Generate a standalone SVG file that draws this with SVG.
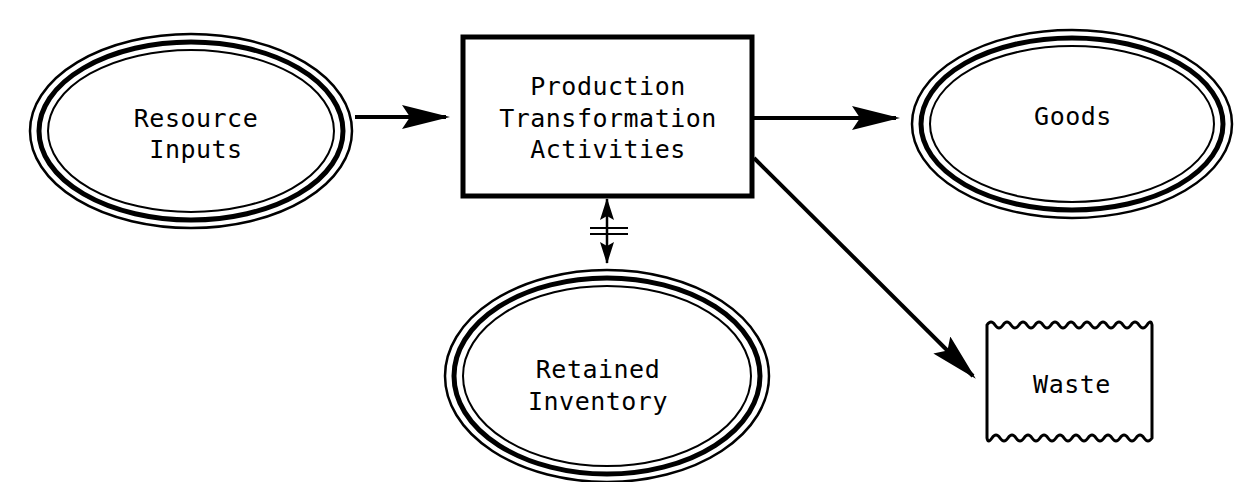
<svg xmlns="http://www.w3.org/2000/svg" width="1236" height="482" viewBox="0 0 1236 482">
<style>
.o{fill:none;stroke:#000;stroke-width:2.5}
.m{fill:none;stroke:#000;stroke-width:5}
.i{fill:none;stroke:#000;stroke-width:2}
.t{font-family:"DejaVu Sans Mono","Liberation Mono",monospace;font-size:25px;letter-spacing:0.5px;fill:#000;text-anchor:middle}
.c{fill:none;stroke:#000;stroke-width:4}
</style>
<defs>
<marker id="ah" markerWidth="12" markerHeight="6" refX="11" refY="3" orient="auto" markerUnits="strokeWidth">
<path d="M0,0 L12,3 L0,6 L2,3 Z" fill="#000"/>
</marker>
<marker id="sa" markerWidth="22" markerHeight="14" refX="21" refY="7" orient="auto-start-reverse" markerUnits="userSpaceOnUse">
<path d="M0,0 L22,7 L0,14 L4,7 Z" fill="#000"/>
</marker>
</defs>
<rect width="1236" height="482" fill="#fff"/>
<g id="resource">
<ellipse class="o" cx="191" cy="131" rx="161" ry="97"/>
<ellipse class="m" cx="191" cy="131" rx="152" ry="89"/>
<ellipse class="i" cx="191" cy="131" rx="143" ry="81"/>
<text class="t" x="196" y="127">Resource</text>
<text class="t" x="196" y="158">Inputs</text>
</g>
<g id="production">
<rect x="463" y="37" width="289" height="159" fill="#fff" stroke="#000" stroke-width="5"/>
<text class="t" x="608" y="95">Production</text>
<text class="t" x="608" y="127">Transformation</text>
<text class="t" x="608" y="158">Activities</text>
</g>
<g id="goods">
<ellipse class="o" cx="1072" cy="124" rx="160" ry="94"/>
<ellipse class="m" cx="1072" cy="124" rx="151" ry="86"/>
<ellipse class="i" cx="1072" cy="124" rx="142" ry="78"/>
<text class="t" x="1073" y="125">Goods</text>
</g>
<g id="retained">
<ellipse class="o" cx="607" cy="376" rx="162" ry="106"/>
<ellipse class="m" cx="607" cy="376" rx="153" ry="98"/>
<ellipse class="i" cx="607" cy="376" rx="144" ry="90"/>
<text class="t" x="598" y="378">Retained</text>
<text class="t" x="598" y="410">Inventory</text>
</g>
<g id="waste">
<path d="M987,325 q4,-6 8,0 t8,0 t8,0 t8,0 t8,0 t8,0 t8,0 t8,0 t8,0 t8,0 t8,0 t8,0 t8,0 t8,0 t8,0 t8,0 t8,0 t8,0 t8,0 t8,0 t5,0 L1152,438 q-4,6 -8,0 t-8,0 t-8,0 t-8,0 t-8,0 t-8,0 t-8,0 t-8,0 t-8,0 t-8,0 t-8,0 t-8,0 t-8,0 t-8,0 t-8,0 t-8,0 t-8,0 t-8,0 t-8,0 t-8,0 t-5,0 Z" fill="#fff" stroke="#000" stroke-width="3"/>
<text class="t" x="1072" y="393">Waste</text>
</g>
<g id="connectors">
<line class="c" x1="355" y1="117" x2="446" y2="117" marker-end="url(#ah)"/>
<line class="c" x1="754" y1="118" x2="896" y2="118" marker-end="url(#ah)"/>
<line class="c" x1="754" y1="158" x2="973" y2="376" marker-end="url(#ah)"/>
<line x1="607" y1="199" x2="607" y2="263" stroke="#000" stroke-width="2.5" marker-start="url(#sa)" marker-end="url(#sa)"/>
<line x1="590" y1="228" x2="628" y2="228" stroke="#000" stroke-width="2"/>
<line x1="590" y1="234" x2="628" y2="234" stroke="#000" stroke-width="2"/>
</g>
</svg>
